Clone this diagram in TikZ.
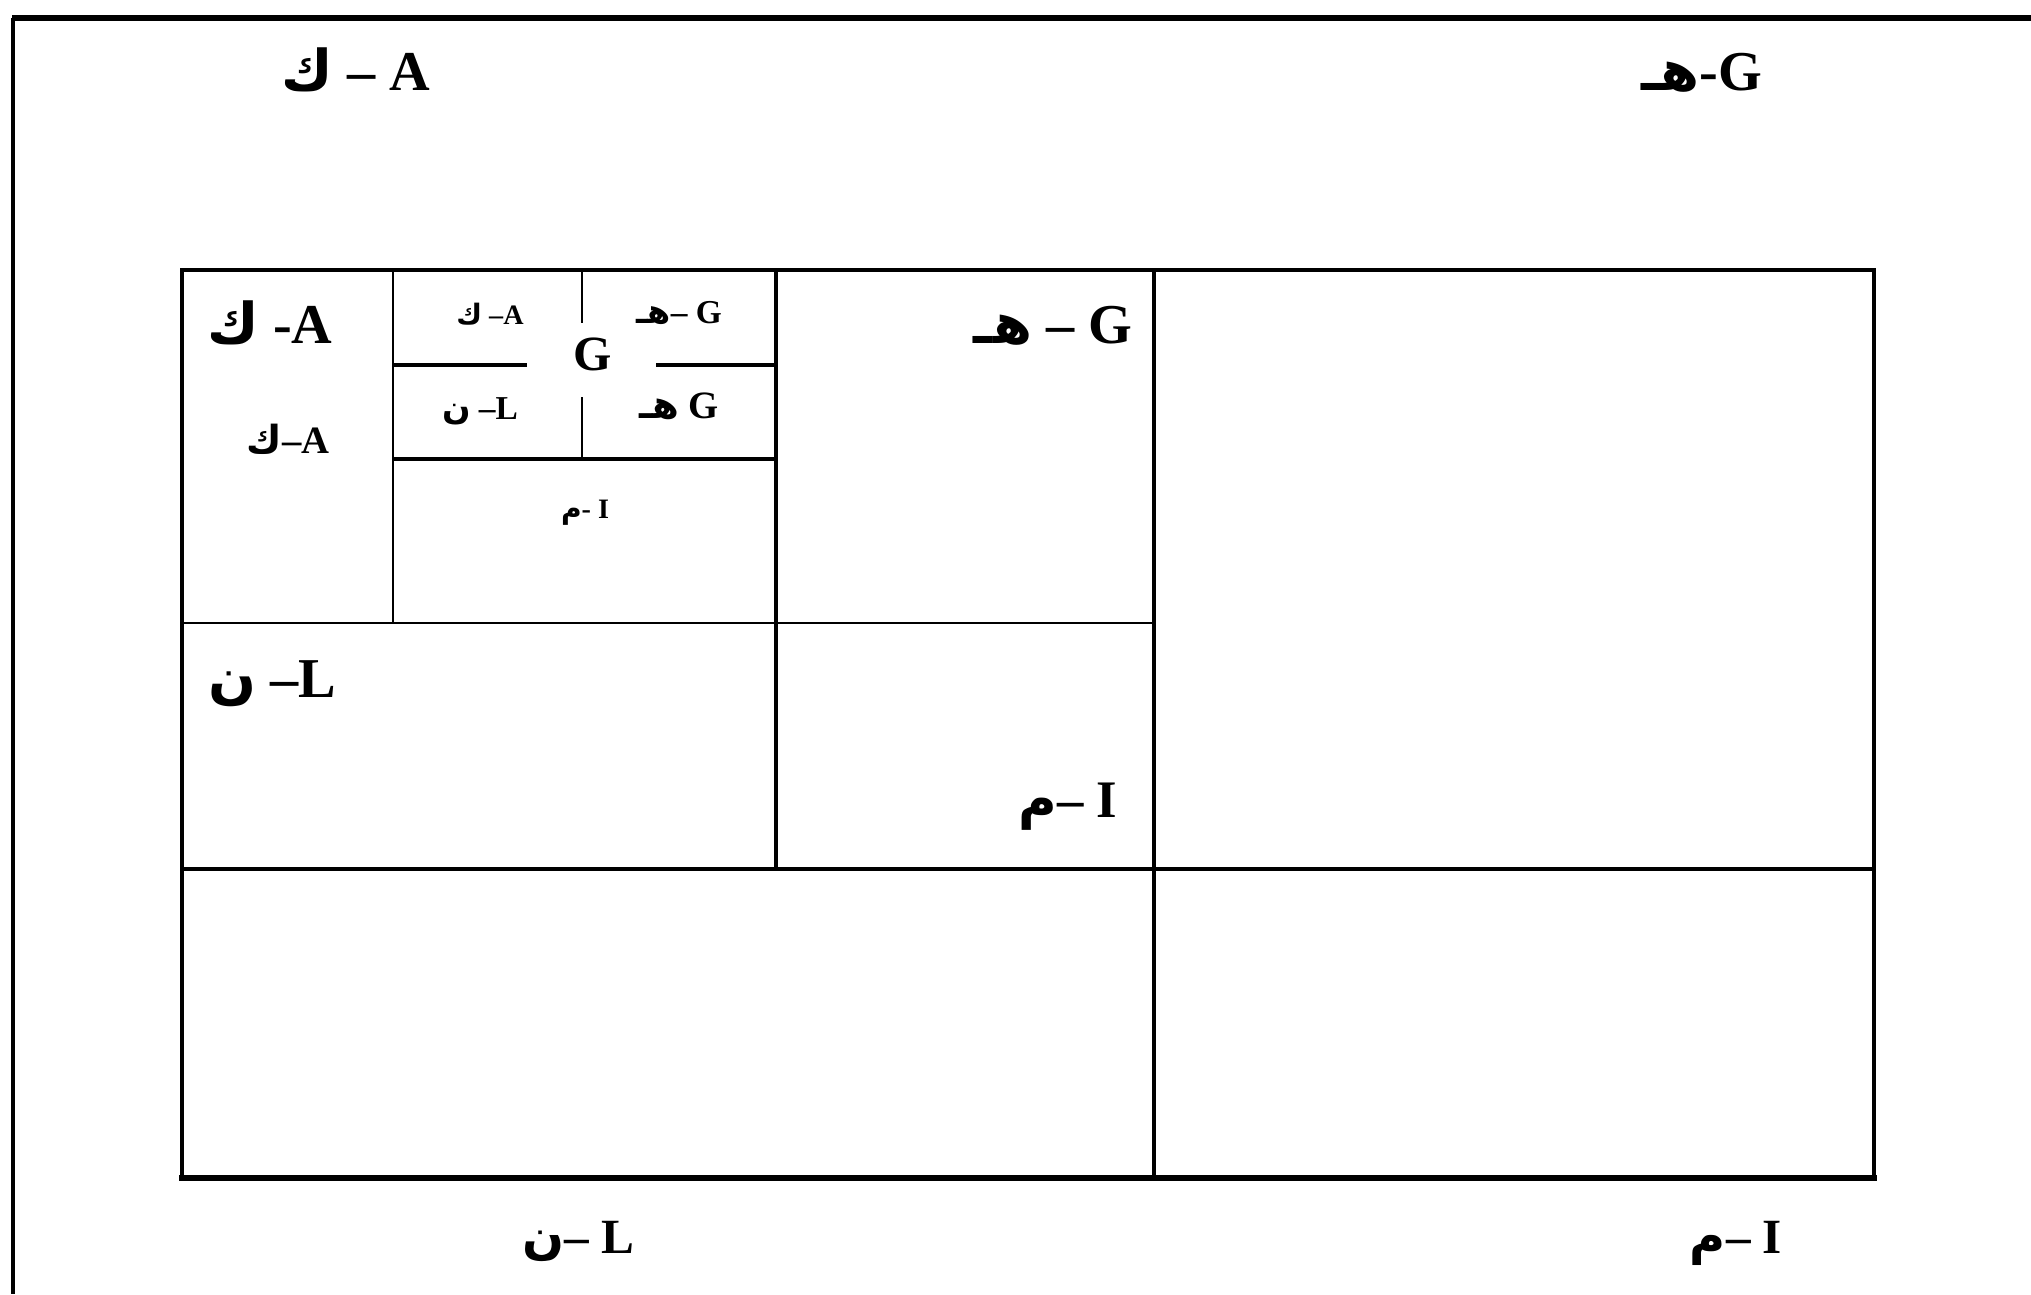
\documentclass[tikz,border=0pt]{standalone}
\usepackage{fontspec}
\setmainfont{Liberation Serif}
\newfontfamily\arfont[Script=Arabic]{DejaVu Sans}
\TeXXeTstate=1
\newcommand{\arl}[1]{{\arfont\bfseries\beginR #1\endR}}
\tikzset{
  lbl/.style={inner sep=0pt, anchor=base},
  fsA/.style={lbl, font=\fontsize{16}{18}\selectfont\bfseries},
  fsB/.style={lbl, font=\fontsize{14}{16}\selectfont\bfseries},
  fsC/.style={lbl, font=\fontsize{11}{13}\selectfont\bfseries},
  fsD/.style={lbl, font=\fontsize{9.5}{11}\selectfont\bfseries},
  fsE/.style={lbl, font=\fontsize{8}{10}\selectfont\bfseries},
  frameline/.style={line width=#1, line cap=rect},
}
\begin{document}
\begin{tikzpicture}[x=0.01cm,y=-0.01cm]
\useasboundingbox (0,0) rectangle (2031,1294);
% outer frame (top and left)
\draw[line width=1.5pt] (12,18) -- (2031,18);
\draw[line width=0.9pt] (13,18) -- (13,1294);
% table outer
\draw[frameline=0.9pt] (182,270) -- (1874,270);
\draw[frameline=1pt] (182,270) -- (182,1178);
\draw[frameline=1.2pt] (1874,270) -- (1874,1178);
\draw[frameline=1.6pt] (182,1178) -- (1874,1178);
% main dividers
\draw[line width=1.4pt] (182,869) -- (1874,869);
\draw[line width=1.2pt] (1154,270) -- (1154,1178);
\draw[line width=0.6pt] (182,623) -- (1154,623);
\draw[line width=0.9pt] (776,270) -- (776,869);
\draw[line width=0.6pt] (393,270) -- (393,623);
% inner small cells
\draw[line width=1pt] (393,459) -- (776,459);
\draw[line width=1pt] (393,365) -- (527,365);
\draw[line width=1pt] (656,365) -- (776,365);
\draw[line width=0.5pt] (582,270) -- (582,323);
\draw[line width=0.5pt] (582,397) -- (582,459);
% labels
\node[fsA] (t1) at (356,91) {\arl{ك}\ –\ A};
\node[fsA] (t2) at (1702,91) {\arl{هـ}-G};
\node[fsA] (c1) at (270,343) {\arl{ك} -A};
\node[fsC] (c2) at (288,453) {\arl{ك}–A};
\node[fsE] (s1) at (490,324) {\arl{ك} –A};
\node[fsD] (s2) at (679,323) {\arl{هـ}– G};
\node[lbl, font=\fontsize{14}{16}\selectfont\bfseries] (sg) at (593,370) {G};
\node[fsD] (s3) at (480,419) {\arl{ن} –L};
\node[fsC] (s4) at (679,418) {\arl{هـ} G};
\node[fsE] (s5) at (585,518) {\arl{م}- I};
\node[fsA] (c3) at (1053,343) {\arl{هـ} – G};
\node[fsA] (c4) at (272,697) {\arl{ن} –L};
\node[lbl, font=\fontsize{15}{17}\selectfont\bfseries] (c5) at (1068,817) {\arl{م}– I};
\node[fsB] (b1) at (578,1253) {\arl{ن}– L};
\node[fsB] (b2) at (1736,1253) {\arl{م}– I};
\end{tikzpicture}
\end{document}
